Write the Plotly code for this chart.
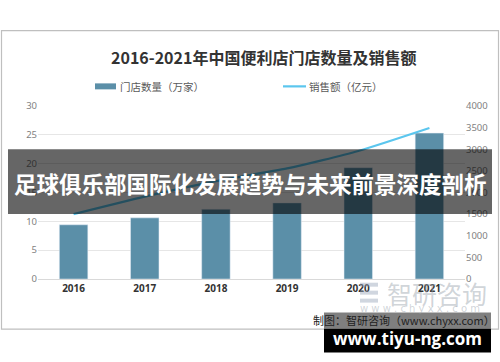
import plotly.graph_objects as go

years = ["2016", "2017", "2018", "2019", "2020", "2021"]
stores = [9.4, 10.6, 12.1, 13.2, 19.3, 25.3]      # 门店数量（万家）
sales = [1500, 1905, 2264, 2556, 2961, 3492]      # 销售额（亿元）
left_ticks = [0, 5, 10, 15, 20, 25, 30]
right_ticks = [0, 500, 1000, 1500, 2000, 2500, 3000, 3500, 4000]

W, H = 500, 362
L, R, T, B = 38, 35, 105.7, 82.7
PW, PH = W - L - R, H - T - B

def px(x):
    return (x - L) / PW

def py(y):
    return (H - B - y) / PH

CJK = "Noto Sans CJK SC"
BAR = "#5B8FA8"
LINE = "#5BC6EE"

fig = go.Figure()
fig.add_trace(go.Bar(x=years, y=stores, marker_color=BAR, showlegend=False,
                     name="门店数量（万家）"))
fig.add_trace(go.Scatter(x=years, y=sales, yaxis="y2", mode="lines",
                         line=dict(color=LINE, width=2.2, shape="spline", smoothing=0.6),
                         showlegend=False, name="销售额（亿元）"))

shapes = [
    # outer frame
    dict(type="rect", xref="paper", yref="paper", x0=px(1.5), x1=px(498.5), y0=py(30), y1=py(329.5),
         line=dict(color="#bfbfbf", width=1.2), fillcolor="rgba(0,0,0,0)", layer="below"),
    # legend swatches
    dict(type="rect", xref="paper", yref="paper", x0=px(95), x1=px(116), y0=py(89), y1=py(83),
         line=dict(width=0), fillcolor=BAR),
    dict(type="line", xref="paper", yref="paper", x0=px(283), x1=px(306), y0=py(86), y1=py(86),
         line=dict(color=LINE, width=2.2)),
    # dark overlay band
    dict(type="rect", xref="paper", yref="paper", x0=px(8), x1=px(492), y0=py(149), y1=py(214),
         line=dict(width=0), fillcolor="rgba(0,0,0,0.6)", layer="above"),
    # watermark box
    dict(type="rect", xref="paper", yref="paper", x0=px(324), x1=px(491), y0=py(313), y1=py(329.5),
         line=dict(width=0), fillcolor="rgba(0,0,0,0.5)", layer="above"),
    dict(type="rect", xref="paper", yref="paper", x0=px(324), x1=px(491), y0=py(329.5), y1=py(353),
         line=dict(width=0), fillcolor="#000000", layer="above"),
]

ann = [
    dict(text="<b>2016-2021年中国便利店门店数量及销售额</b>", x=px(263), y=py(57),
         font=dict(family=CJK, size=16, color="#333333")),
    dict(text="门店数量（万家）", x=px(118), y=py(86), xanchor="left",
         font=dict(family=CJK, size=10.5, color="#595959")),
    dict(text="销售额（亿元）", x=px(307), y=py(86), xanchor="left",
         font=dict(family=CJK, size=10.5, color="#595959")),
    dict(text="智研咨询", x=px(385), y=py(293), xanchor="left",
         font=dict(family=CJK, size=25, color="rgba(150,160,170,0.45)")),
    dict(text="w w w . c h y x x . c o m", x=px(420), y=py(309),
         font=dict(family="DejaVu Sans", size=10, color="rgba(150,160,170,0.45)")),
    dict(text="制图：智研咨询（www.chyxx.com）", x=px(497), y=py(320), xanchor="right",
         font=dict(family=CJK, size=11, color="#222222")),
    dict(text="<b>足球俱乐部国际化发展趋势与未来前景深度剖析</b>", x=px(250), y=py(183),
         font=dict(family=CJK, size=22.5, color="#ffffff")),
    dict(text="<b>www.tiyu-ng.com</b>", x=px(407), y=py(339),
         font=dict(family="Open Sans", size=17, color="#ffffff")),
]
for a in ann:
    a.update(xref="paper", yref="paper", showarrow=False, yanchor="middle")
    a.setdefault("xanchor", "center")

# watermark logo icon
shapes += [
    dict(type="rect", xref="paper", yref="paper", x0=px(360), x1=px(378), y0=py(283), y1=py(287),
         line=dict(width=0), fillcolor="rgba(150,165,185,0.45)"),
    dict(type="rect", xref="paper", yref="paper", x0=px(360), x1=px(378), y0=py(291), y1=py(295),
         line=dict(width=0), fillcolor="rgba(150,165,185,0.45)"),
    dict(type="rect", xref="paper", yref="paper", x0=px(360), x1=px(378), y0=py(299), y1=py(303),
         line=dict(width=0), fillcolor="rgba(150,165,185,0.45)"),
]

fig.update_layout(
    width=W, height=H,
    margin=dict(l=L, r=R, t=T, b=B, autoexpand=False),
    paper_bgcolor="#ffffff", plot_bgcolor="#ffffff",
    bargap=0.6,
    xaxis=dict(type="category", showgrid=False, showline=True, linecolor="#d9d9d9", linewidth=1,
               ticks="", tickfont=dict(family="Noto Sans", size=10, color="#333333"),
               tickvals=years, ticktext=["<b>%s</b>" % y for y in years], fixedrange=True,
               automargin=False),
    yaxis=dict(range=[0, 30], tickvals=left_ticks, showgrid=True, gridcolor="#e6e6e6",
               zeroline=False, ticks="", tickfont=dict(family="Noto Sans", size=9.5, color="#7f7f7f"),
               fixedrange=True, automargin=False),
    yaxis2=dict(range=[0, 4000], tickvals=right_ticks, overlaying="y", side="right",
                showgrid=False, zeroline=False, ticks="",
                tickfont=dict(family="Noto Sans", size=9.5, color="#7f7f7f"), fixedrange=True,
                automargin=False),
    shapes=shapes,
    annotations=ann,
    showlegend=False,
)

fig.write_html("out.html", config={"displayModeBar": False},
               post_script="document.body.style.margin='0';document.body.style.overflow='hidden';")
